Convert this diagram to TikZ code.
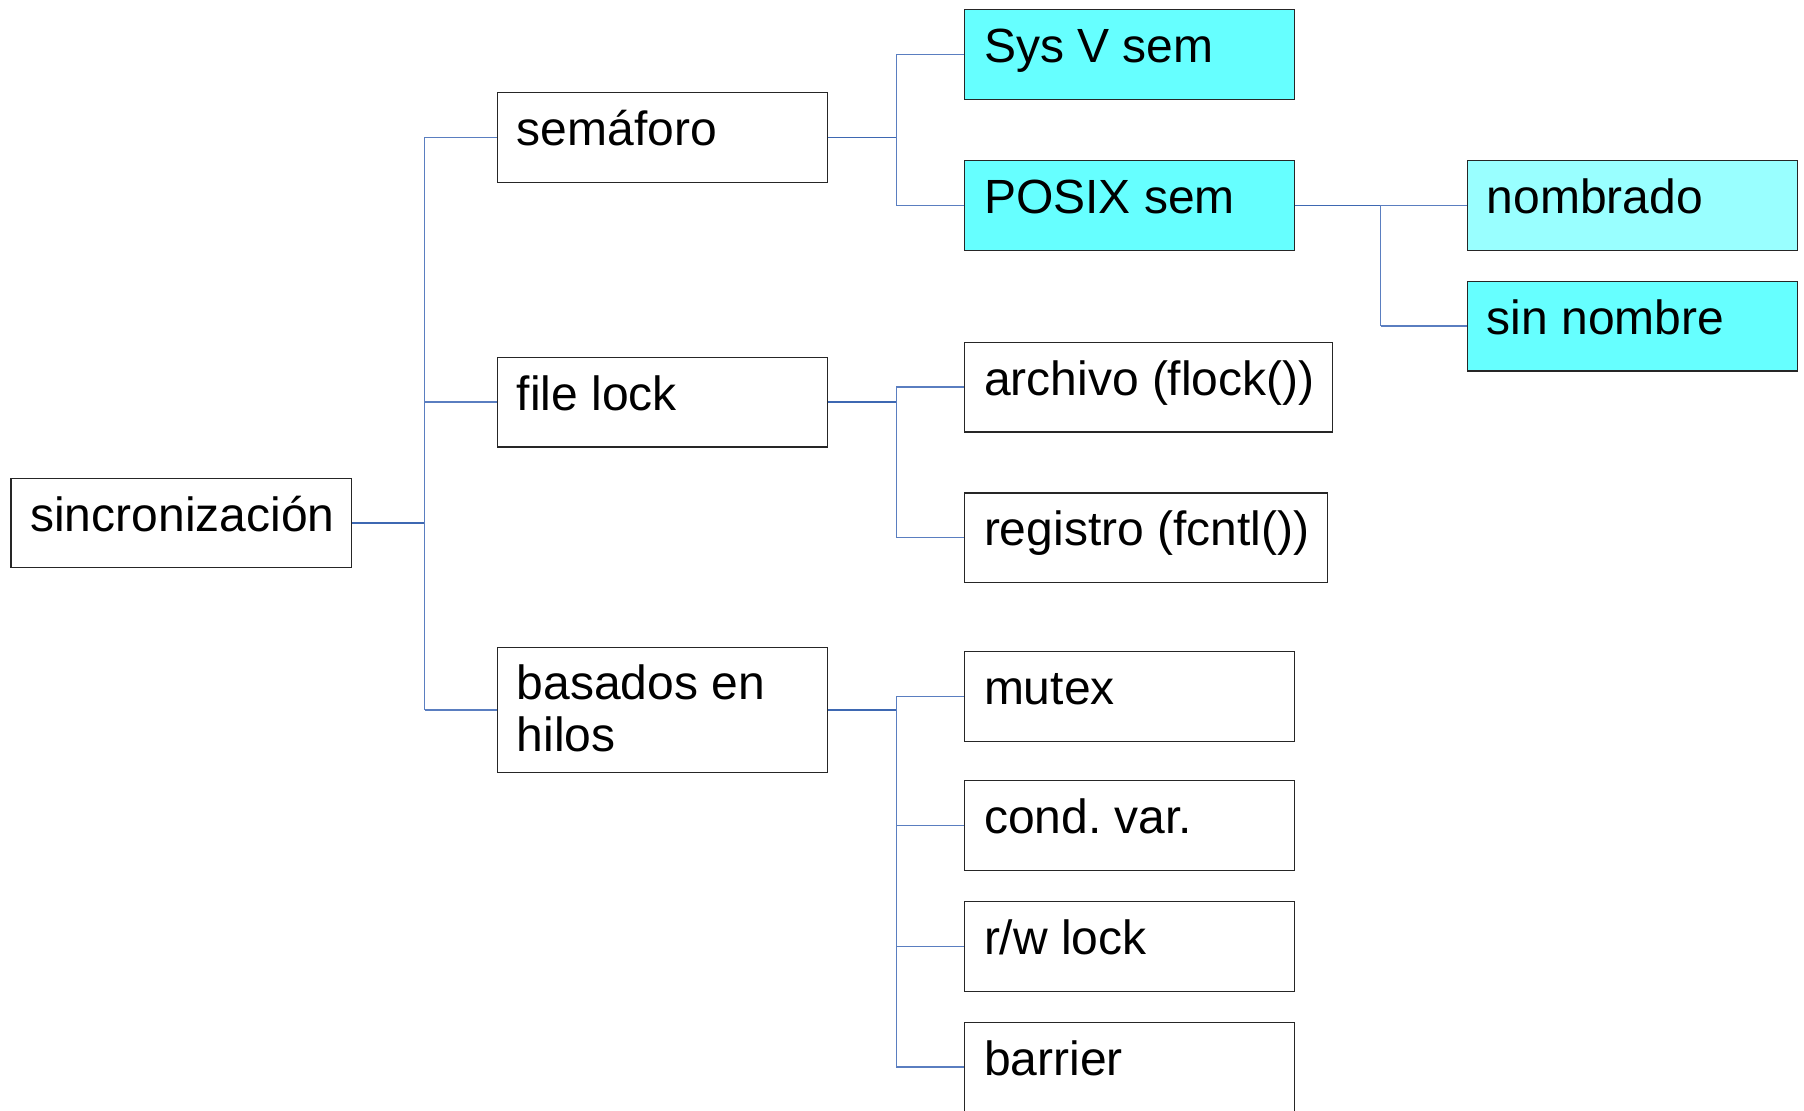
\documentclass[tikz,border=0pt]{standalone}
\usepackage{fontspec}
\setmainfont{Liberation Sans}
\frenchspacing
\definecolor{linkblue}{RGB}{62,104,178}
\definecolor{branchblue}{RGB}{90,126,192}
\definecolor{cyanfill}{RGB}{102,255,255}
\definecolor{palecyan}{RGB}{153,255,255}
\begin{document}
\begin{tikzpicture}[x=0.5pt,y=-0.5pt,
  box/.style={draw=black!85, line width=0.55pt, anchor=north west,
    minimum width=165.1pt, minimum height=44.85pt, inner sep=0pt, fill=white},
  cyanbox/.style={box, fill=cyanfill},
  palebox/.style={box, fill=palecyan},
  lbl/.style={anchor=base west, inner sep=0pt, align=left,
    font=\fontsize{24}{26.25}\selectfont},
  trunk/.style={draw=linkblue, line width=0.8pt},
  branch/.style={draw=branchblue, line width=0.65pt}]
\useasboundingbox (0,0) rectangle (1804,1110);

% boxes
\node[box, minimum width=170.25pt] (sinc) at (10.4,477.5) {};
\node[box] (sem) at (497,92) {};
\node[box] (flk) at (497,356.7) {};
\node[box, minimum height=62.7pt] (bas) at (497,646.6) {};
\node[cyanbox] (sysv) at (964.1,9.2) {};
\node[cyanbox] (posix) at (964.1,159.9) {};
\node[palebox] (nomb) at (1466.9,159.9) {};
\node[cyanbox] (sinn) at (1466.9,280.7) {};
\node[box, minimum width=184pt] (arch) at (964.1,341.7) {};
\node[box, minimum width=181.2pt] (reg) at (964.1,492.4) {};
\node[box] (mutex) at (964.1,651.2) {};
\node[box] (cond) at (964.1,780) {};
\node[box] (rw) at (964.1,900.8) {};
\node[box] (barr) at (964.1,1021.6) {};

% labels
\node[lbl] (tsinc) at ([shift={(19.5,53.5)}]sinc.north west) {sincronización};
\node[lbl] (tsem) at ([shift={(19.5,53.5)}]sem.north west) {semáforo};
\node[lbl] (tflk) at ([shift={(19.5,53.5)}]flk.north west) {file lock};
\node[lbl] (tbas) at ([shift={(19.5,105)}]bas.north west) {basados en\\hilos};
\node[lbl] (tsysv) at ([shift={(19.5,53.5)}]sysv.north west) {Sys V sem};
\node[lbl] (tposix) at ([shift={(19.5,53.5)}]posix.north west) {POSIX sem};
\node[lbl] (tnomb) at ([shift={(19.5,53.5)}]nomb.north west) {nombrado};
\node[lbl] (tsinn) at ([shift={(19.5,53.5)}]sinn.north west) {sin nombre};
\node[lbl] (tarch) at ([shift={(19.5,53.5)}]arch.north west) {archivo (flock())};
\node[lbl] (treg) at ([shift={(19.5,53.5)}]reg.north west) {registro (fcntl())};
\node[lbl] (tmutex) at ([shift={(19.5,53.5)}]mutex.north west) {mutex};
\node[lbl] (tcond) at ([shift={(19.5,53.5)}]cond.north west) {cond. var.};
\node[lbl] (trw) at ([shift={(19.5,53.5)}]rw.north west) {r/w lock};
\node[lbl] (tbarr) at ([shift={(19.5,53.5)}]barr.north west) {barrier};

% trunk columns
\coordinate (c1) at (424.5,0);
\coordinate (c2) at (896.2,0);
\coordinate (c3) at (1380.6,0);

% level 1
\draw[trunk] (sinc.east) -- (sinc.east -| c1);
\draw[branch] (sem.west -| c1) -- (bas.west -| c1);
\foreach \n in {sem,flk,bas} \draw[branch] (\n.west -| c1) -- (\n.west);

% semaforo
\draw[trunk] (sem.east) -- (sem.east -| c2);
\draw[branch] (sysv.west -| c2) -- (posix.west -| c2);
\foreach \n in {sysv,posix} \draw[branch] (\n.west -| c2) -- (\n.west);

% file lock
\draw[trunk] (flk.east) -- (flk.east -| c2);
\draw[branch] (arch.west -| c2) -- (reg.west -| c2);
\foreach \n in {arch,reg} \draw[branch] (\n.west -| c2) -- (\n.west);

% threads
\draw[trunk] (bas.east) -- (bas.east -| c2);
\draw[branch] (mutex.west -| c2) -- (barr.west -| c2);
\foreach \n in {mutex,cond,rw,barr} \draw[branch] (\n.west -| c2) -- (\n.west);

% POSIX sem
\draw[trunk] (posix.east) -- (posix.east -| c3);
\draw[branch] (nomb.west -| c3) -- (sinn.west -| c3);
\foreach \n in {nomb,sinn} \draw[branch] (\n.west -| c3) -- (\n.west);
\end{tikzpicture}
\end{document}
